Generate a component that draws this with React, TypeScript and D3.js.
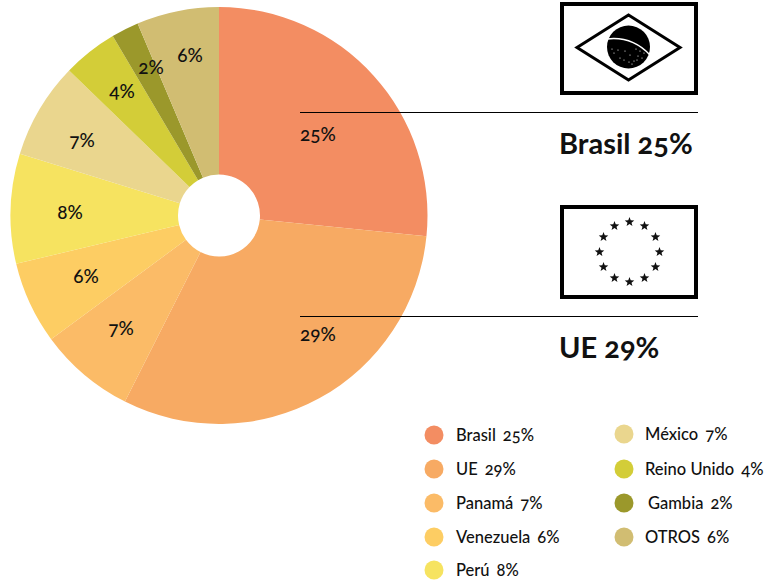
import * as d3 from 'd3'

const countries = ['Brasil', 'UE', 'Panamá', 'Venezuela', 'Perú', 'México', 'Reino Unido', 'Gambia', 'OTROS']
const shares = [25, 29, 7, 6, 8, 7, 4, 2, 6]
const colors = ['#f38d62', '#f7aa63', '#fbbb67', '#fdcd63', '#f6e360', '#ead68e', '#d3cd38', '#9b982b', '#d1bd72']

const width = 769
const height = 583
const cx = 219
const cy = 215.5
const font = 'Lato, "Open Sans", sans-serif'

// labels were placed by hand in the original, not on the centroids
const labelPos: [number, number][] = [
  [318, 134], [318, 334], [121, 328], [86, 276], [70, 212], [82, 140], [122, 91], [151, 67], [190, 55],
]
const legendPos: [number, number, number][] = [
  [434, 435, 456], [434, 469, 456], [434, 503, 456], [434, 537, 456], [434, 570, 456],
  [624, 434, 645], [624, 469, 645], [624, 503, 648], [624, 537, 645],
]
const globeDots: [number, number][] = [
  [-14, 6], [-8, 11], [-3, 4], [2, 8], [6, 14], [10, 9], [14, 11], [-10, 3], [1, 15], [12, 4], [-4, 13], [8, 2],
  [16, 6], [-16, 2], [4, 17], [9, 13],
]

function starPath(r: number) {
  const pts = d3.range(10).map(i => {
    const a = (i * Math.PI) / 5
    const rr = i % 2 ? r * 0.42 : r
    return d3.pointRadial(a, rr)
  })
  return d3.line()(pts as [number, number][]) + 'Z'
}

export default function App() {
  const pie = d3.pie<number>().sort(null).value(d => d)
  const arc = d3.arc<d3.PieArcDatum<number>>().innerRadius(41).outerRadius(208.5)
  const arcs = pie(shares)
  const starAngles = d3.range(12).map(i => (i * Math.PI) / 6)

  return (
    <svg
      width={width}
      height={height}
      style={{ position: 'absolute', left: 0, top: 0, background: '#fff', fontFamily: font, fontVariantNumeric: 'oldstyle-nums' }}
    >
      <g transform={`translate(${cx},${cy})`}>
        {arcs.map((d, i) => (
          <path key={countries[i]} d={arc(d) ?? ''} fill={colors[i]} />
        ))}
      </g>

      {shares.map((v, i) => (
        <text
          key={i}
          x={labelPos[i][0]}
          y={labelPos[i][1]}
          dy="0.35em"
          textAnchor="middle"
          fontSize={19}
          fontWeight={500}
          fill="#111"
        >
          {v}%
        </text>
      ))}

      {/* Brazil flag */}
      <rect x={562} y={4} width={134} height={89} fill="#fff" stroke="#000" strokeWidth={4} />
      <path d="M577,47.5 L628.5,15 L680,47.5 L628.5,80 Z" fill="#fff" stroke="#000" strokeWidth={3} />
      <circle cx={628.5} cy={47} r={21.5} fill="#000" />
      <path d="M607,39 Q632,36 650,55" fill="none" stroke="#fff" strokeWidth={1.5} />
      {globeDots.map(([dx, dy], i) => (
        <circle key={i} cx={628 + dx} cy={47 + dy} r={0.6} fill="#fff" />
      ))}

      {/* EU flag */}
      <rect x={562} y={207} width={134} height={90} fill="#fff" stroke="#000" strokeWidth={4} />
      {starAngles.map((a, i) => {
        const [x, y] = d3.pointRadial(a, 30)
        return <path key={i} d={starPath(5)} transform={`translate(${629.5 + x},${252 + y})`} fill="#111" />
      })}

      <line x1={300} x2={698} y1={112.5} y2={112.5} stroke="#000" />
      <line x1={300} x2={698} y1={316.5} y2={316.5} stroke="#000" />

      <text x={559} y={154} fontSize={29} fontWeight={700} fill="#111">{countries[0]} {shares[0]}%</text>
      <text x={559} y={358} fontSize={29} fontWeight={700} fill="#111">{countries[1]} {shares[1]}%</text>

      {countries.map((c, i) => (
        <g key={c}>
          <circle cx={legendPos[i][0]} cy={legendPos[i][1]} r={9.5} fill={colors[i]} />
          <text x={legendPos[i][2]} y={legendPos[i][1]} dy="0.35em" fontSize={16.5} fontWeight={500} fill="#111">
            {c}<tspan dx={7}>{shares[i]}%</tspan>
          </text>
        </g>
      ))}
    </svg>
  )
}
